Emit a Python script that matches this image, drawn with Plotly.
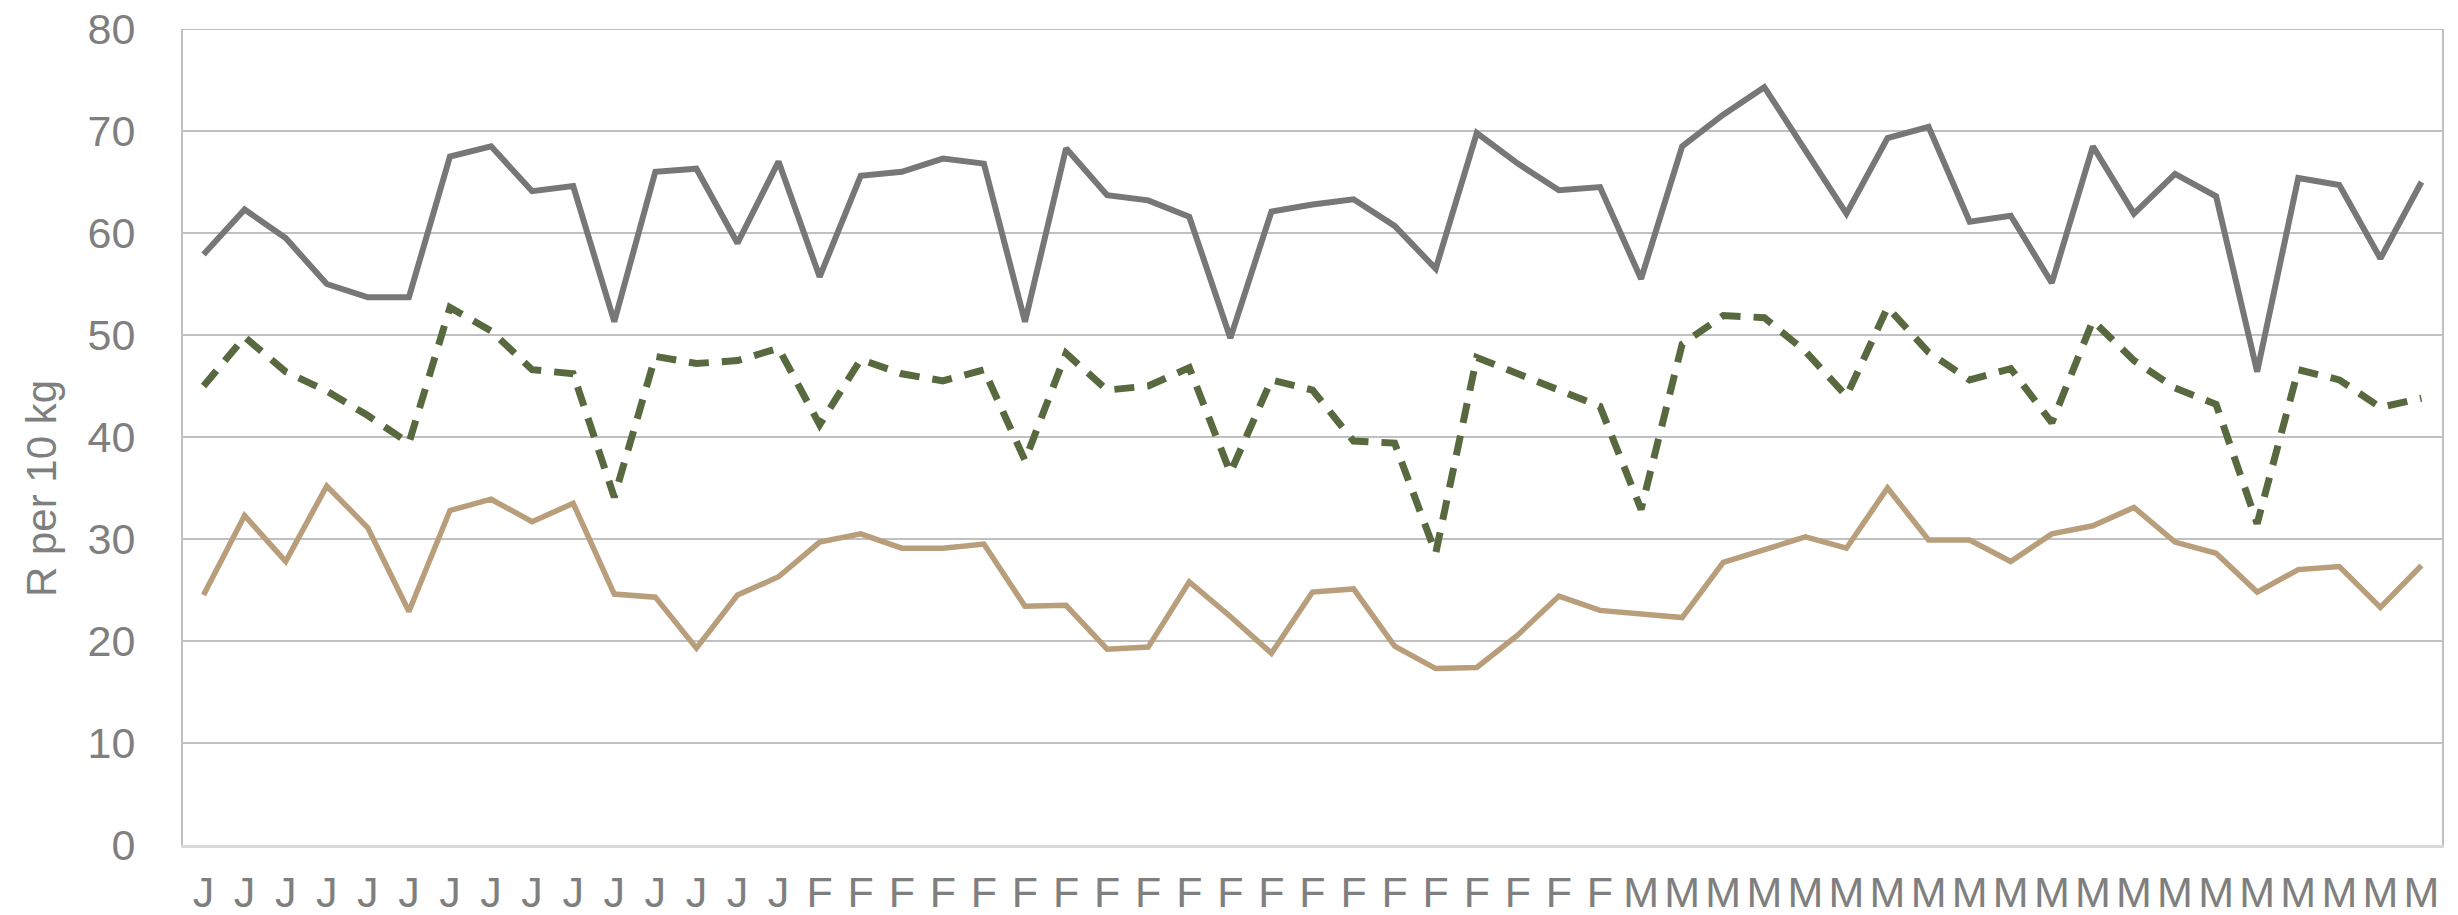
import plotly.graph_objects as go

months = ["J"] * 15 + ["F"] * 20 + ["M"] * 20

series_top = [57.9, 62.3, 59.5, 55.0, 53.7, 53.7, 67.5, 68.5, 64.1, 64.6,
              51.3, 66.0, 66.3, 59.0, 67.0, 55.7, 65.6, 66.0, 67.3, 66.8,
              51.3, 68.3, 63.7, 63.2, 61.6, 49.7, 62.1, 62.8, 63.3, 60.7,
              56.5, 69.8, 66.8, 64.2, 64.5, 55.5, 68.5, 71.6, 74.3, 68.1,
              61.9, 69.3, 70.4, 61.1, 61.7, 55.1, 68.5, 61.9, 65.8, 63.6,
              46.4, 65.4, 64.7, 57.5, 65.0]

series_mid = [45.0, 49.8, 46.4, 44.5, 42.1, 39.4, 52.7, 50.4, 46.6, 46.2,
              34.1, 47.9, 47.2, 47.5, 48.7, 41.2, 47.6, 46.2, 45.5, 46.6,
              37.7, 48.2, 44.6, 45.0, 46.8, 36.5, 45.6, 44.6, 39.6, 39.4,
              28.6, 47.8, 46.2, 44.6, 43.0, 32.9, 49.1, 51.9, 51.7, 48.4,
              44.0, 52.7, 48.3, 45.6, 46.7, 41.4, 51.4, 47.5, 44.8, 43.2,
              31.5, 46.6, 45.6, 42.9, 43.8]

series_low = [24.5, 32.3, 27.8, 35.2, 31.1, 22.9, 32.8, 33.9, 31.7, 33.5,
              24.6, 24.3, 19.3, 24.5, 26.3, 29.7, 30.5, 29.1, 29.1, 29.5,
              23.4, 23.5, 19.2, 19.4, 25.8, 22.4, 18.8, 24.8, 25.1, 19.5,
              17.3, 17.4, 20.6, 24.4, 23.0, 22.7, 22.3, 27.7, 28.9, 30.2,
              29.1, 35.0, 29.9, 29.9, 27.8, 30.5, 31.3, 33.1, 29.7, 28.6,
              24.8, 27.0, 27.3, 23.3, 27.4]

y_ticks = [0, 10, 20, 30, 40, 50, 60, 70, 80]
y_title = "R per 10 kg"

x = list(range(len(months)))

fig = go.Figure()
fig.add_trace(go.Scatter(x=x, y=series_low, mode="lines",
                         line=dict(color="#b89e7b", width=5.5)))
fig.add_trace(go.Scatter(x=x, y=series_mid, mode="lines",
                         line=dict(color="#58693f", width=7, dash="20px,13px")))
fig.add_trace(go.Scatter(x=x, y=series_top, mode="lines",
                         line=dict(color="#777777", width=6)))

grey = "#7f7f7f"
grid = "#c0c0c0"
fig.update_layout(
    width=2458, height=915,
    margin=dict(l=183, r=16, t=29, b=70),
    paper_bgcolor="white", plot_bgcolor="white",
    showlegend=False,
    xaxis=dict(
        range=[-0.5, len(months) - 0.5], automargin=False,
        tickmode="array", tickvals=x, ticktext=months, tickangle=0,
        tickfont=dict(family="Liberation Sans Narrow, Liberation Sans", size=43, color=grey),
        showgrid=False, zeroline=False,
        showline=True, linecolor="#d9d9d9", linewidth=3,
        ticks="", ticklabelstandoff=7,
    ),
    yaxis=dict(
        range=[0, 80], tickvals=y_ticks, automargin=False,
        tickfont=dict(family="Liberation Sans", size=43, color=grey),
        showgrid=True, gridcolor=grid, gridwidth=2,
        zeroline=False,
        showline=True, mirror=True, linecolor=grid, linewidth=2,
        ticks="", ticklabelstandoff=37,
    ),
    shapes=[dict(type="line", xref="paper", yref="y", x0=0, x1=1, y0=80, y1=80,
                 line=dict(color=grid, width=2), layer="below")],
    annotations=[dict(
        text=y_title, textangle=-90, showarrow=False,
        xref="paper", yref="paper",
        x=(41 - 183) / 2259, y=(845 - 489) / 816,
        xanchor="center", yanchor="middle",
        font=dict(family="Liberation Sans", size=42, color=grey),
    )],
)

fig.write_html("out.html", config={"displayModeBar": False},
               post_script="document.body.style.margin='0';document.body.style.overflow='hidden';")
